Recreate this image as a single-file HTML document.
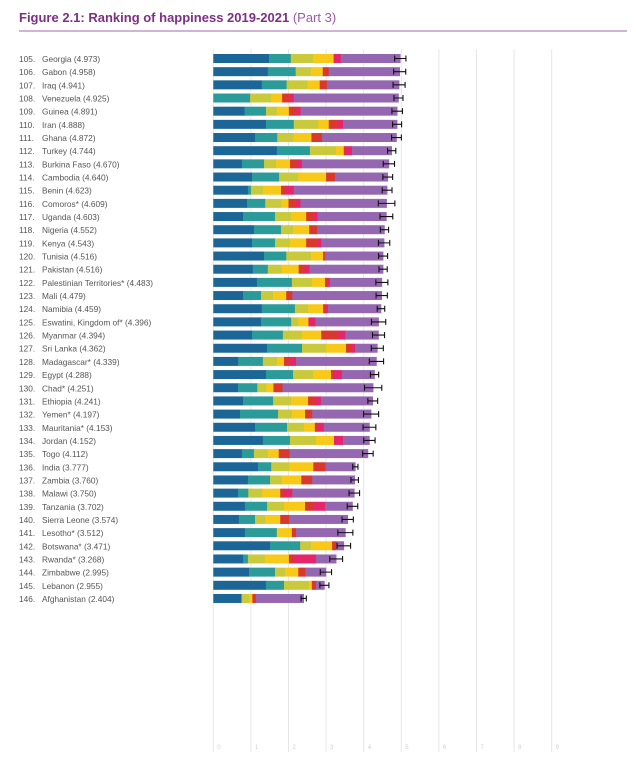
<!DOCTYPE html>
<html><head><meta charset="utf-8">
<style>
body{margin:0;background:#fff;width:636px;height:762px;overflow:hidden;font-family:"Liberation Sans",sans-serif;}
</style></head>
<body>
<svg id="chart" width="636" height="762" xmlns="http://www.w3.org/2000/svg">
<text x="19" y="22" font-family="Liberation Sans, sans-serif" font-size="13" fill="#7d2f86" font-weight="bold">Figure 2.1: Ranking of happiness 2019-2021 <tspan font-weight="normal" fill="#9a5aa5">(Part 3)</tspan></text>
<line x1="19" y1="31" x2="627" y2="31" stroke="#a467ad" stroke-width="1"/>
<g id="grid"></g><g id="rows"></g>
</svg>
<script>
const countries=["Georgia","Gabon","Iraq","Venezuela","Guinea","Iran","Ghana","Turkey","Burkina Faso","Cambodia","Benin","Comoros*","Uganda","Nigeria","Kenya","Tunisia","Pakistan","Palestinian Territories*","Mali","Namibia","Eswatini, Kingdom of*","Myanmar","Sri Lanka","Madagascar*","Egypt","Chad*","Ethiopia","Yemen*","Mauritania*","Jordan","Togo","India","Zambia","Malawi","Tanzania","Sierra Leone","Lesotho*","Botswana*","Rwanda*","Zimbabwe","Lebanon","Afghanistan"];
const scores=[4.973,4.958,4.941,4.925,4.891,4.888,4.872,4.744,4.670,4.640,4.623,4.609,4.603,4.552,4.543,4.516,4.516,4.483,4.479,4.459,4.396,4.394,4.362,4.339,4.288,4.251,4.241,4.197,4.153,4.152,4.112,3.777,3.760,3.750,3.702,3.574,3.512,3.471,3.268,2.995,2.955,2.404];
const gdp=[1.48,1.45,1.29,0,0.83,1.40,1.11,1.69,0.76,1.03,0.92,0.90,0.79,1.08,1.03,1.35,1.05,1.16,0.79,1.29,1.27,1.03,1.43,0.66,1.40,0.66,0.79,0.71,1.11,1.32,0.76,1.19,0.92,0.66,0.84,0.68,0.84,1.51,0.79,0.95,1.40,0.75];
const social=[0.58,0.74,0.66,0.98,0.57,0.74,0.59,0.88,0.59,0.72,0.08,0.48,0.85,0.72,0.61,0.59,0.40,0.93,0.48,0.88,0.80,0.82,0.93,0.66,0.72,0.51,0.80,1.01,0.85,0.72,0.32,0.35,0.59,0.27,0.59,0.43,0.85,0.80,0.13,0.69,0.48,0];
const health=[0.59,0.40,0.55,0.56,0.29,0.65,0.43,0.69,0.32,0.51,0.32,0.43,0.43,0.32,0.40,0.66,0.37,0.53,0.32,0.35,0.19,0.51,0.64,0.37,0.53,0.24,0.48,0.37,0.45,0.69,0.37,0.48,0.32,0.37,0.45,0.27,0,0.29,0.45,0.27,0.66,0.20];
const freedom=[0.55,0.32,0.33,0.29,0.32,0.28,0.48,0.21,0.37,0.74,0.48,0.19,0.40,0.43,0.43,0.32,0.45,0.35,0.35,0.40,0.27,0.51,0.53,0.19,0.48,0.19,0.45,0.35,0.29,0.48,0.29,0.64,0.51,0.48,0.56,0.40,0.40,0.56,0.64,0.35,0.08,0.09];
const generosity=[0.01,0.16,0.19,0.20,0.20,0.22,0.28,0.03,0.18,0.24,0.13,0.19,0.19,0.21,0.29,0.05,0.16,0.05,0.16,0.05,0,0.43,0.16,0.13,0.08,0.24,0.21,0.19,0.05,0,0.29,0.32,0.29,0.11,0.24,0.24,0.11,0.11,0.13,0.19,0.11,0.09];
const corruption=[0.18,0,0,0.11,0.11,0.16,0,0.19,0.14,0,0.21,0.13,0.11,0,0.11,0,0.13,0.08,0,0.08,0.19,0.21,0.08,0.19,0.21,0,0.13,0,0.19,0.24,0,0,0,0.21,0.29,0,0,0,0.59,0,0,0];
const ciHalf=[0.15,0.16,0.16,0.12,0.14,0.12,0.13,0.11,0.15,0.13,0.13,0.22,0.17,0.11,0.15,0.12,0.11,0.16,0.15,0.10,0.19,0.16,0.16,0.19,0.11,0.23,0.13,0.20,0.17,0.15,0.14,0.07,0.10,0.14,0.14,0.15,0.20,0.18,0.17,0.15,0.12,0.07];
const ticks=[0,1,2,3,4,5,6,7,8,9];
const NS="http://www.w3.org/2000/svg";
const x0=213.3, ppu=37.6, y0=58.5, pitch=13.17, bh=9;
const X=v=>x0+v*ppu, Y=i=>y0+i*pitch;
const colors=["#1b6697","#2b9b99","#c9c93c","#f9c91a","#d8392c","#e5266a","#9467b0"];
const segNames=["gdp","social-support","life-expectancy","freedom","generosity","corruption","dystopia-residual"];
function mk(t,a,p){const e=document.createElementNS(NS,t);for(const k in a)e.setAttribute(k,a[k]);p.appendChild(e);return e;}
const grid=document.getElementById('grid'), rows=document.getElementById('rows');
ticks.forEach(t=>{
  const l=mk('line',{x1:X(t),x2:X(t),y1:49,y2:752,stroke:'#e6e6e6','stroke-width':1},grid);
  
  
  const tx=mk('text',{x:X(t)+4,y:749,'font-size':6,fill:'#d0d0d0','font-family':'Liberation Sans, sans-serif'},grid);
  tx.textContent=t;
  
  
});
countries.forEach((c,i)=>{
  const y=Y(i);
  const g=mk('g',{},rows);
  
  
  const r=mk('text',{x:19,y:y+3.5,'font-size':8.3,fill:'#555','font-family':'Liberation Sans, sans-serif'},g);
  r.textContent=(105+i)+'.';
  
  
  const n=mk('text',{x:42,y:y+3.5,'font-size':8.3,fill:'#555','font-family':'Liberation Sans, sans-serif'},g);
  n.textContent=c+' ('+scores[i].toFixed(3)+')';
  
  
  const parts=[gdp[i],social[i],health[i],freedom[i],generosity[i],corruption[i]];
  let s=0;parts.forEach(p=>s+=p);
  parts.push(Math.max(0,scores[i]-s));
  let acc=0;
  parts.forEach((p,k)=>{
    if(p<=0)return;
    const b=mk('rect',{x:X(acc),y:y-bh/2,width:p*ppu+0.3,height:bh,fill:colors[k]},g);
    
    
    acc+=p;
  });
  const lo=X(scores[i]-ciHalf[i]), hi=X(scores[i]+ciHalf[i]);
  const e=mk('path',{d:`M${lo},${y}H${hi}M${lo},${y-3}V${y+3}M${hi},${y-3}V${y+3}`,stroke:'#111','stroke-width':1.1,fill:'none'},g);
  
  
});
</script>
</body></html>
